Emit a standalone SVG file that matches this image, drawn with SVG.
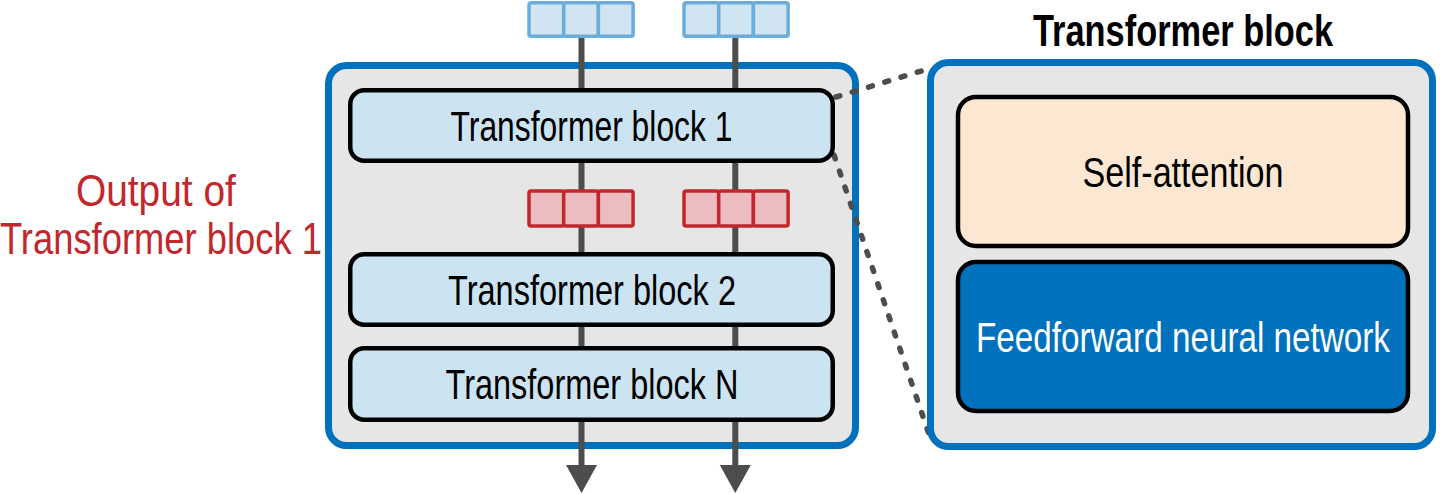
<svg xmlns="http://www.w3.org/2000/svg" width="1440" height="494" viewBox="0 0 1440 494">
<style>
.cont{fill:#E6E6E6;stroke:#0071BC;stroke-width:7}
.blk{fill:#CCE3F1;stroke:#000;stroke-width:4.5}
.t{font-family:"Liberation Sans",Arial,sans-serif;font-size:42px;fill:#000}
.tb{fill:#D0E4F2;stroke:#6AADDB;stroke-width:3.5}
.tr{fill:#EBBDC0;stroke:#C1272D;stroke-width:3.5}
.ln{stroke:#4D4D4D;stroke-width:6;fill:none}
.dot{stroke:#4D4D4D;stroke-width:5.5;fill:none;stroke-dasharray:4 13;stroke-linecap:round}
.ah{fill:#4D4D4D}
</style>
<g id="stack-container">
<rect class="cont" x="328.5" y="65.5" width="527" height="380" rx="18"/>
</g>
<g id="connectors">
<line class="ln" x1="581.5" y1="36" x2="581.5" y2="468"/>
<line class="ln" x1="735.3" y1="36" x2="735.3" y2="468"/>
<polygon class="ah" points="566,465 597,465 581.5,493"/>
<polygon class="ah" points="719.8,465 750.8,465 735.3,493"/>
<line class="dot" x1="836" y1="97" x2="931" y2="68"/>
<line class="dot" x1="834" y1="155" x2="931" y2="440"/>
</g>
<g id="input-tokens-1">
<rect class="tb" x="529" y="2.7" width="34.7" height="33.5" rx="2"/>
<rect class="tb" x="563.7" y="2.7" width="34.7" height="33.5" rx="2"/>
<rect class="tb" x="598.4" y="2.7" width="34.7" height="33.5" rx="2"/>
</g>
<g id="input-tokens-2">
<rect class="tb" x="684" y="2.7" width="34.7" height="33.5" rx="2"/>
<rect class="tb" x="718.7" y="2.7" width="34.7" height="33.5" rx="2"/>
<rect class="tb" x="753.4" y="2.7" width="34.7" height="33.5" rx="2"/>
</g>
<g id="block1">
<rect class="blk" x="350.25" y="90.25" width="482.5" height="70.5" rx="14"/>
<text class="t" x="591.5" y="140.5" text-anchor="middle" textLength="282" lengthAdjust="spacingAndGlyphs">Transformer block 1</text>
</g>
<g id="output-tokens-1">
<rect class="tr" x="529" y="191" width="34.7" height="35" rx="2"/>
<rect class="tr" x="563.7" y="191" width="34.7" height="35" rx="2"/>
<rect class="tr" x="598.4" y="191" width="34.7" height="35" rx="2"/>
</g>
<g id="output-tokens-2">
<rect class="tr" x="684" y="191" width="34.7" height="35" rx="2"/>
<rect class="tr" x="718.7" y="191" width="34.7" height="35" rx="2"/>
<rect class="tr" x="753.4" y="191" width="34.7" height="35" rx="2"/>
</g>
<g id="block2">
<rect class="blk" x="350.25" y="254.25" width="482.5" height="70.5" rx="14"/>
<text class="t" x="592" y="304.5" text-anchor="middle" textLength="288" lengthAdjust="spacingAndGlyphs">Transformer block 2</text>
</g>
<g id="blockN">
<rect class="blk" x="350.25" y="348.25" width="482.5" height="71.5" rx="14"/>
<text class="t" x="592" y="399" text-anchor="middle" textLength="293" lengthAdjust="spacingAndGlyphs">Transformer block N</text>
</g>
<g id="output-label">
<text style="font-family:'Liberation Sans',Arial,sans-serif;font-size:44px;fill:#C1272D" text-anchor="middle">
<tspan x="162" y="206" textLength="160" lengthAdjust="spacingAndGlyphs">Output of</tspan>
<tspan x="161" y="254" textLength="322" lengthAdjust="spacingAndGlyphs">Transformer block 1</tspan>
</text>
</g>
<g id="transformer-detail">
<text class="t" x="1183" y="46" text-anchor="middle" style="font-size:44px;font-weight:bold" textLength="300" lengthAdjust="spacingAndGlyphs">Transformer block</text>
<rect class="cont" x="930.5" y="62.5" width="502" height="384" rx="18"/>
</g>
<g id="self-attention">
<rect x="958" y="97" width="450" height="149" rx="18" style="fill:#FCE7D2;stroke:#000;stroke-width:4.5"/>
<text class="t" x="1183" y="186.5" text-anchor="middle" textLength="201" lengthAdjust="spacingAndGlyphs">Self-attention</text>
</g>
<g id="feedforward">
<rect x="958" y="262" width="450" height="149" rx="18" style="fill:#0071BC;stroke:#000;stroke-width:4.5"/>
<text class="t" transform="translate(1183 351.5) scale(1 1.24)" x="0" y="0" text-anchor="middle" style="fill:#fff;font-size:34px" textLength="414" lengthAdjust="spacingAndGlyphs">Feedforward neural network</text>
</g>
</svg>
